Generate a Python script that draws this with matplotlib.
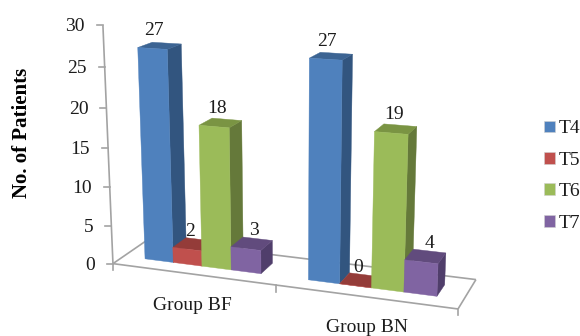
import numpy as np
import matplotlib
matplotlib.use('Agg')
import matplotlib.pyplot as plt
from matplotlib.patches import Patch, Polygon

groups = ['Group BF', 'Group BN']
series = ['T4', 'T5', 'T6', 'T7']
t4 = [27, 27]
t5 = [2, 0]
t6 = [18, 19]
t7 = [3, 4]
y_ticks = [0, 5, 10, 15, 20, 25, 30]

# cara frontal, lateral y superior de cada serie
front = ['#4F81BD', '#C0504D', '#9BBB59', '#8064A2']
side = ['#32557F', '#8A3936', '#65793A', '#503E6B']
top = ['#3C6493', '#943C39', '#7A9443', '#614B7D']

plt.rcParams['font.family'] = ['Liberation Serif', 'DejaVu Serif']
TXT = '#1c1c1c'
GRIS = '#a3a3a3'

# Camara: (categoria, valor, profundidad) -> pixel
world = np.array([[0, 0, 0], [2, 0, 0], [2, 0, 1], [0, 0, 1],
                  [0, 30, 0], [0, 15, 0], [2, 30, 0]], dtype=float)
pix = np.array([[113, 263], [458, 309.5], [476, 279], [148, 240],
                [103, 25], [108, 148], [468.5, 45.5]])
filas = []
for (X, Y, Z), (u, v) in zip(world, pix):
    filas.append([X, Y, Z, 1, 0, 0, 0, 0, -u*X, -u*Y, -u*Z, -u])
    filas.append([0, 0, 0, 0, X, Y, Z, 1, -v*X, -v*Y, -v*Z, -v])
P = np.linalg.svd(np.array(filas))[2][-1].reshape(3, 4)


def proy(x, y, z):
    h = P @ np.array([x, y, z, 1.0])
    return h[0]/h[2], h[1]/h[2]


fig = plt.figure(figsize=(5.8, 3.36), dpi=100)
ax = fig.add_axes([0, 0, 1, 1])
ax.set_xlim(0, 580)
ax.set_ylim(336, 0)
ax.axis('off')


def linea(a, b):
    pa, pb = proy(*a), proy(*b)
    ax.plot([pa[0], pb[0]], [pa[1], pb[1]], color=GRIS, lw=1.2, solid_capstyle='butt', zorder=1)


# Suelo y ejes
linea((0, 0, 0), (2, 0, 0))
linea((0, 0, 1), (2, 0, 1))
linea((0, 0, 0), (0, 0, 1))
linea((2, 0, 0), (2, 0, 1))
linea((0, 0, 0), (0, 30, 0))

for t in y_ticks:
    px, py = proy(0, t, 0)
    ax.plot([px-6, px], [py, py], color=GRIS, lw=1.2, zorder=1)
    ax.text(px-18, py+1.5, str(t), ha='right', va='center', fontsize=14, color=TXT)

for c in range(3):
    px, py = proy(c, 0, 0)
    ax.plot([px, px], [py, py+6.5], color=GRIS, lw=1.2, zorder=1)

# Barras, de izquierda a derecha para que se tapen bien
ancho = 0.18
inicio = 0.137
d0, d1 = 0.3, 0.7
desp_etiqueta = [1.5, 2.5, 2.5, 8]
valores = [t4, t5, t6, t7]
for g in range(len(groups)):
    for s, vals in enumerate(valores):
        v = vals[g]
        x0 = g + inicio + s*ancho
        x1 = x0 + ancho
        caras = [
            ([(x1, 0, d0), (x1, 0, d1), (x1, v, d1), (x1, v, d0)], side[s]),
            ([(x0, v, d0), (x1, v, d0), (x1, v, d1), (x0, v, d1)], top[s]),
            ([(x0, 0, d0), (x1, 0, d0), (x1, v, d0), (x0, v, d0)], front[s]),
        ]
        for pts, col in caras:
            ax.add_patch(Polygon([proy(*p) for p in pts], closed=True, facecolor=col,
                                 edgecolor=col, lw=0.3, zorder=2))
        lx, ly = proy((x0+x1)/2, v, d0)
        ax.text(lx+desp_etiqueta[s], ly-18, str(v), ha='center', va='center', fontsize=14, color=TXT, zorder=3)

ax.text(22, 132.5, 'No. of Patients', rotation=90, ha='center', va='center',
        fontsize=15, fontweight='bold', color='black')
ax.text(192, 305, groups[0], ha='center', va='center', fontsize=14, color=TXT)
ax.text(367, 328, groups[1], ha='center', va='center', fontsize=14, color=TXT)

handles = [Patch(facecolor=c, edgecolor='#d0d0d0', lw=0.4, label=n) for c, n in zip(front, series)]
ax.legend(handles=handles, loc='center left', bbox_to_anchor=(544/580, 1-176/336),
          frameon=False, fontsize=14, handlelength=0.56, handleheight=0.56,
          handletextpad=0.2, labelspacing=0.74, borderpad=0, borderaxespad=0,
          labelcolor=TXT)

fig.savefig('out.png', dpi=100)
